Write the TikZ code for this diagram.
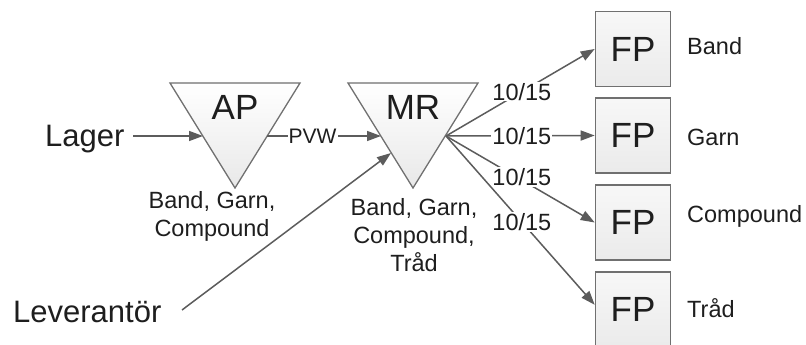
\documentclass[tikz,border=0pt]{standalone}
\usepackage{fontspec}
\setmainfont{Liberation Sans}
\usetikzlibrary{arrows.meta}
\definecolor{ink}{HTML}{1E1E1E}
\definecolor{wire}{HTML}{5C5C5C}
\definecolor{rim}{HTML}{707070}
\begin{document}
\begin{tikzpicture}[x=1pt,y=-1pt,
  every node/.style={text=ink, inner sep=0pt},
  flow/.style={draw=wire, line width=1.5pt, -{Triangle[length=14pt,width=10pt]}},
  tri/.style={draw=rim, line width=1.3pt, top color=white, bottom color=black!9, line join=miter},
  fpbox/.style={draw=rim, line width=1.6pt, top color=white!97!black, bottom color=black!8,
    minimum size=75pt, font=\fontsize{35}{40}\selectfont},
  bigtxt/.style={font=\fontsize{35}{40}\selectfont},
  srctxt/.style={font=\fontsize{31}{36}\selectfont},
  smalltxt/.style={font=\fontsize{23.5}{28}\selectfont},
  qty/.style={fill=white, inner sep=1pt, font=\fontsize{23.5}{28}\selectfont},
  pvw/.style={fill=white, inner sep=1pt, font=\fontsize{21}{24}\selectfont}
]
\useasboundingbox (0,0) rectangle (806,345);

% process triangles
\path[tri] (170,83) -- (300,83) -- (235,188) -- cycle;
\path[tri] (348,83) -- (478,83) -- (413,188) -- cycle;
\node[bigtxt] (AP) at (235,107) {AP};
\node[bigtxt] (MR) at (413,107) {MR};

% contact points on the triangle edges
\coordinate (apin)  at (203,136);
\coordinate (apout) at (267,136);
\coordinate (mrin)  at (381,136);
\coordinate (mrsup) at (391,153);
\coordinate (mrout) at (446,136);

% product lists under the triangles
\node[smalltxt, align=center] (aplist) at (212,216) {Band, Garn,\\Compound};
\node[smalltxt, align=center] (mrlist) at (414,235) {Band, Garn,\\Compound,\\Tråd};

% sources and the free ends of their arrows
\node[srctxt, anchor=base west] (lager) at (45,146) {Lager};
\node[srctxt, anchor=base west] (lev) at (13,322) {Leverantör};
\coordinate (lagerend) at (133,136);
\coordinate (levend) at (182,310);

% final product boxes
\node[fpbox] (fp1) at (633,49)    {FP};
\node[fpbox] (fp2) at (633,135.5) {FP};
\node[fpbox] (fp3) at (633,222.5) {FP};
\node[fpbox] (fp4) at (633,309.5) {FP};

\node[smalltxt, anchor=base west] (band)  at (687,55)  {Band};
\node[smalltxt, anchor=base west] (garn)  at (687,145) {Garn};
\node[smalltxt, anchor=base west] (comp)  at (687,222) {Compound};
\node[smalltxt, anchor=base west] (trad)  at (687,317) {Tråd};

% flows
\draw[flow] (lagerend) -- (apin);
\draw[flow] (apout) -- node[pvw, pos=0.4] {PVW} (mrin);
\draw[flow] (levend) -- (mrsup);

\draw[flow] (mrout) -- node[qty, pos=0.51] {10/15} (fp1.west);
\draw[flow] (mrout) -- node[qty, pos=0.51] {10/15} (fp2.west);
\draw[flow] (mrout) -- node[qty, pos=0.51, yshift=3pt] {10/15} (fp3.west);
\draw[flow] (mrout) -- node[qty, pos=0.51] {10/15} (fp4.173);
\end{tikzpicture}
\end{document}
